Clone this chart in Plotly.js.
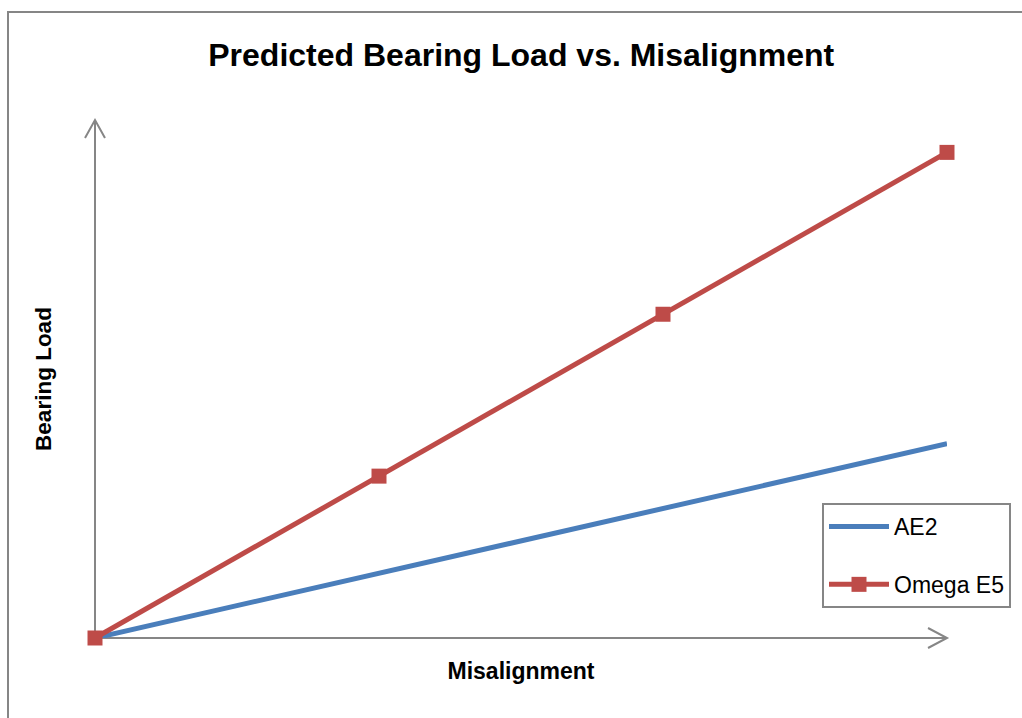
<!DOCTYPE html>
<html>
<head>
<meta charset="utf-8">
<script src="https://cdn.plot.ly/plotly-3.0.1.min.js"></script>
<style>
  html, body { margin: 0; padding: 0; background: #fff; overflow: hidden; }
  #frame { position: absolute; left: 7px; top: 11px; width: 1030px; height: 720px; border: 2px solid #868686; box-sizing: border-box; pointer-events: none; z-index: 5; }
  #chart { position: absolute; left: 0; top: 0; width: 1022px; height: 718px; }
</style>
</head>
<body>
<div id="chart"></div>
<div id="frame"></div>
<script>
// Data
const misalignment = [0, 1, 2, 3];
const ae2Load = [0, 0.4, 0.8, 1.2];
const omegaE5Load = [0, 1, 2, 3];
const seriesNames = ['AE2', 'Omega E5'];

const FONT = 'Liberation Sans, Arial, sans-serif';
const GRAY = '#868686';

const traces = [
  {
    x: misalignment, y: ae2Load, name: seriesNames[0], type: 'scatter', mode: 'lines',
    line: { color: '#4a7ebb', width: 5 }, legendgroup: 'a', cliponaxis: false
  },
  {
    x: misalignment, y: omegaE5Load, name: seriesNames[1], type: 'scatter', mode: 'lines+markers',
    line: { color: '#be4b48', width: 5 }, marker: { symbol: 'square', size: 15, color: '#be4b48' },
    legendgroup: 'b', cliponaxis: false
  }
];

// axis decoration geometry (paper coordinates)
const L = 95, R = 948, T = 120, B = 638;
const px = v => (v - L) / (R - L);
const py = v => (B - v) / (B - T);

const layout = {
  width: 1022, height: 718,
  margin: { l: L, r: 1022 - R, t: T, b: 718 - B },
  paper_bgcolor: '#fff', plot_bgcolor: '#fff',
  font: { family: FONT, color: '#000' },
  title: { text: '<b>Predicted Bearing Load vs. Misalignment</b>', font: { size: 32, family: FONT }, x: 0.51, xanchor: 'center', y: 0.923, yanchor: 'middle' },
  xaxis: {
    range: [0, 3], showgrid: false, zeroline: false, showticklabels: false, ticks: '',
    showline: false,
    title: { text: '<b>Misalignment</b>', font: { size: 23, family: FONT }, standoff: 24 }
  },
  yaxis: {
    range: [0, 3.2], showgrid: false, zeroline: false, showticklabels: false, ticks: '',
    showline: false,
    title: { text: '<b>Bearing Load</b>', font: { size: 22.5, family: FONT }, standoff: 36 }
  },
  showlegend: true,
  legend: {
    x: px(822), y: py(503), xanchor: 'left', yanchor: 'top',
    bordercolor: GRAY, borderwidth: 2, bgcolor: '#fff',
    font: { size: 23, family: FONT }, traceorder: 'grouped', tracegroupgap: 25,
    itemwidth: 60
  },
  shapes: [
    { type: 'line', xref: 'paper', yref: 'paper', x0: 0, y0: 0, x1: px(948), y1: 0, line: { color: GRAY, width: 2 }, layer: 'below' },
    { type: 'line', xref: 'paper', yref: 'paper', x0: 0, y0: 0, x1: 0, y1: py(120), line: { color: GRAY, width: 2 }, layer: 'below' },
    { type: 'path', xref: 'paper', yref: 'paper',
      path: `M ${px(929)} ${py(628)} L ${px(948)} ${py(638)} L ${px(929)} ${py(648)}`,
      line: { color: GRAY, width: 2 }, layer: 'below' },
    { type: 'path', xref: 'paper', yref: 'paper',
      path: `M ${px(85)} ${py(138)} L ${px(95)} ${py(120)} L ${px(105)} ${py(138)}`,
      line: { color: GRAY, width: 2 }, layer: 'below' }
  ]
};

Plotly.newPlot('chart', traces, layout, { displayModeBar: false, staticPlot: true });
</script>
</body>
</html>
